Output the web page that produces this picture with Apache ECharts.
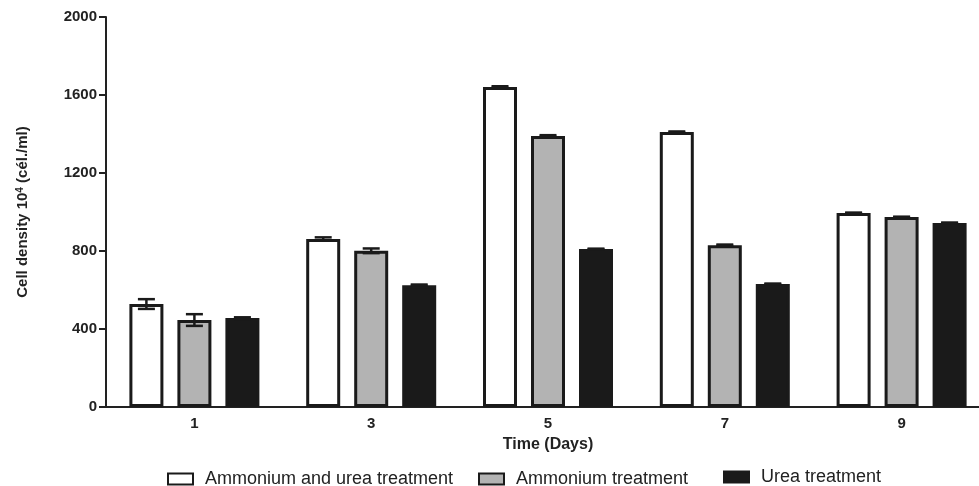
<!DOCTYPE html>
<html>
<head>
<meta charset="utf-8">
<script src="https://cdn.jsdelivr.net/npm/echarts@6/dist/echarts.min.js"></script>
<style>html,body{margin:0;padding:0;background:#fff}#c{width:979px;height:486px}</style>
</head>
<body>
<div id="c"></div>
<script>
var categories = ['1', '3', '5', '7', '9'];
var seriesNames = ['Ammonium and urea treatment', 'Ammonium treatment', 'Urea treatment'];
var ammoniumUrea = [528, 862, 1641, 1410, 995];
var ammonium = [446, 801, 1390, 830, 974];
var urea = [456, 625, 810, 631, 944];
var ammoniumUreaErr = [25, 8, 4, 3, 2];
var ammoniumErr = [30, 12, 4, 3, 2];
var ureaErr = [4, 3, 2, 2, 2];
var yTicks = [0, 400, 800, 1200, 1600, 2000];

var values = [ammoniumUrea, ammonium, urea];
var errs = [ammoniumUreaErr, ammoniumErr, ureaErr];
var fills = ['#ffffff', '#b3b3b3', '#1a1a1a'];
var edge = '#1a1a1a';
var barW = 34, barGapRatio = 14 / 34;
var font = '"Liberation Sans", Arial, sans-serif';
var legendLefts = [162, 473, 718];
var legendTops = [465, 465, 463];

var series = [];
values.forEach(function (v, i) {
  series.push({
    name: seriesNames[i], type: 'bar', data: v, barWidth: barW, barGap: (barGapRatio * 100) + '%',
    itemStyle: { color: fills[i], borderColor: edge, borderWidth: 3 },
    silent: true
  });
});
values.forEach(function (v, i) {
  var k = i - 1;
  series.push({
    type: 'custom', silent: true, z: 10,
    data: v.map(function (val, j) { return [j, val, errs[i][j]]; }),
    renderItem: function (params, api) {
      var x = api.value(0), y = api.value(1), e = api.value(2);
      var off = k * barW * (1 + barGapRatio);
      var top = api.coord([x, y + e]), bot = api.coord([x, y - e]);
      var cx = top[0] + off, cap = 8.5;
      var st = { stroke: edge, lineWidth: 2.5, fill: null };
      return { type: 'group', children: [
        { type: 'line', shape: { x1: cx, y1: top[1], x2: cx, y2: bot[1] }, style: st },
        { type: 'line', shape: { x1: cx - cap, y1: top[1], x2: cx + cap, y2: top[1] }, style: st },
        { type: 'line', shape: { x1: cx - cap, y1: bot[1], x2: cx + cap, y2: bot[1] }, style: st }
      ]};
    }
  });
});

var legends = seriesNames.map(function (n, i) {
  return {
    data: [n], left: legendLefts[i], top: legendTops[i], icon: 'rect', itemWidth: 25, itemHeight: 11,
    textStyle: { fontSize: 18, color: '#222', fontFamily: font, padding: [0, 0, 0, 7] },
    selectedMode: false
  };
});

var chart = echarts.init(document.getElementById('c'), null, { renderer: 'canvas' });
chart.setOption({
  animation: false,
  textStyle: { fontFamily: font },
  grid: { left: 106, width: 884, top: 17, bottom: 79, containLabel: false, outerBoundsMode: 'none' },
  legend: legends,
  xAxis: {
    type: 'category', data: categories,
    name: 'Time (Days)', nameLocation: 'middle', nameGap: 30,
    nameTextStyle: { fontSize: 16, fontWeight: 'bold', color: '#222' },
    axisLine: { lineStyle: { color: '#222', width: 2 } },
    axisTick: { alignWithLabel: true, length: 7, lineStyle: { color: '#222', width: 2 } },
    axisLabel: { fontSize: 15, fontWeight: 'bold', color: '#222', margin: 9 }
  },
  yAxis: {
    type: 'value', min: yTicks[0], max: yTicks[yTicks.length - 1], interval: yTicks[1] - yTicks[0],
    name: 'Cell density 10{sup|4} (cél./ml)', nameLocation: 'middle', nameGap: 75, nameRotate: 90,
    nameTextStyle: { fontSize: 15, fontWeight: 'bold', color: '#222',
      rich: { sup: { fontSize: 10, fontWeight: 'bold', color: '#222', verticalAlign: 'top', padding: [0, 0, 6, 0] } } },
    axisLine: { show: true, lineStyle: { color: '#222', width: 2 } },
    axisTick: { show: true, length: 7, lineStyle: { color: '#222', width: 2 } },
    axisLabel: { fontSize: 15, fontWeight: 'bold', color: '#222', margin: 9,
      formatter: function (v) { return String(v); } },
    splitLine: { show: false }
  },
  series: series
});
</script>
</body>
</html>
